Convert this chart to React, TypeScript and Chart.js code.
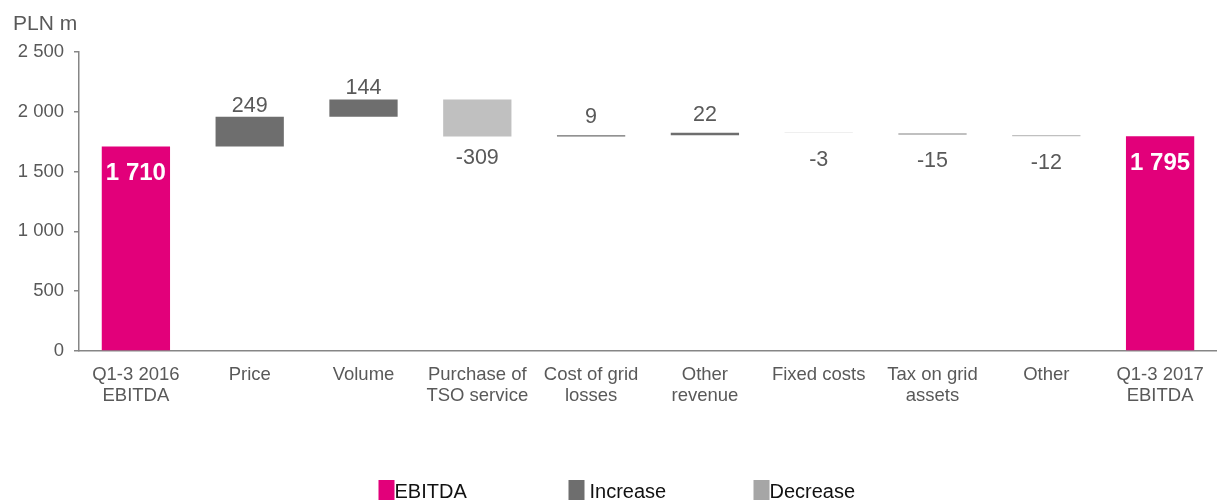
import { useEffect, useRef } from "react";
import { Chart, registerables } from "chart.js";

Chart.register(...registerables);

const categories: (string | string[])[] = [
  ["Q1-3 2016", "EBITDA"],
  "Price",
  "Volume",
  ["Purchase of", "TSO service"],
  ["Cost of grid", "losses"],
  ["Other", "revenue"],
  "Fixed costs",
  ["Tax on grid", "assets"],
  "Other",
  ["Q1-3 2017", "EBITDA"],
];
const startEbitda = 1710;
const endEbitda = 1795;
const changes = [249, 144, -309, 9, 22, -3, -15, -12];
const yTicks = [0, 500, 1000, 1500, 2000, 2500];
const legendLabels = ["EBITDA", "Increase", "Decrease"];

const FONT = '"Liberation Sans", Arial, sans-serif';
const MAGENTA = "#E2007A";
const INC = "#6E6E6E";
const DEC = "#C0C0C0";
const DEC_LEGEND = "#A6A6A6";
const TEXT = "#595959";
const AXIS = "#868686";

const fmt = (v: number) => {
  const s = Math.abs(v).toString().replace(/\B(?=(\d{3})+(?!\d))/g, " ");
  return (v < 0 ? "-" : "") + s;
};

const n = categories.length;
const ebitdaData: ([number, number] | null)[] = Array(n).fill(null);
ebitdaData[0] = [0, startEbitda];
ebitdaData[n - 1] = [0, endEbitda];
const incData: ([number, number] | null)[] = Array(n).fill(null);
const decData: ([number, number] | null)[] = Array(n).fill(null);
const labelValues: number[] = [startEbitda, ...changes, endEbitda];
{
  let level = startEbitda;
  changes.forEach((c, i) => {
    const next = level + c;
    (c >= 0 ? incData : decData)[i + 1] = [level, next];
    level = next;
  });
}

const labelPlugin = {
  id: "wfLabels",
  afterDatasetsDraw(chart: any) {
    const ctx = chart.ctx;
    ctx.save();
    ctx.textAlign = "center";
    ctx.textBaseline = "middle";
    chart.data.datasets.forEach((ds: any, di: number) => {
      const meta = chart.getDatasetMeta(di);
      meta.data.forEach((el: any, i: number) => {
        if (!ds.data[i]) return;
        const top = Math.min(el.y, el.base);
        const bottom = Math.max(el.y, el.base);
        const center = (top + bottom) / 2;
        const v = labelValues[i];
        if (di === 0) {
          ctx.font = `bold 24px ${FONT}`;
          ctx.fillStyle = "#FFFFFF";
          ctx.fillText(fmt(v), el.x, top + 27);
        } else if (di === 1) {
          ctx.font = `21.5px ${FONT}`;
          ctx.fillStyle = TEXT;
          ctx.fillText(fmt(v), el.x, Math.min(top - 11, center - 19));
        } else {
          ctx.font = `21.5px ${FONT}`;
          ctx.fillStyle = TEXT;
          ctx.fillText(fmt(v), el.x, Math.max(bottom + 22, center + 27));
        }
      });
    });
    ctx.restore();
  },
};

const extrasPlugin = {
  id: "extras",
  afterDraw(chart: any) {
    const ctx = chart.ctx;
    ctx.save();
    // axis unit title
    ctx.font = `21px ${FONT}`;
    ctx.fillStyle = TEXT;
    ctx.textAlign = "left";
    ctx.textBaseline = "middle";
    ctx.fillText("PLN m", 13, 24);
    // legend
    const colors = [MAGENTA, INC, DEC_LEGEND];
    const offsets = [-230, -40, 145];
    const cx = chart.width / 2;
    ctx.font = `20px ${FONT}`;
    ctx.textBaseline = "alphabetic";
    legendLabels.forEach((lab, i) => {
      const x = cx + offsets[i];
      ctx.fillStyle = colors[i];
      ctx.fillRect(x, 480, 16, 20);
      ctx.fillStyle = "#111111";
      ctx.fillText(lab, x + 16 + (i === 1 ? 5 : 0), 498);
    });
    ctx.restore();
  },
};

export default function App() {
  const ref = useRef<HTMLCanvasElement | null>(null);
  useEffect(() => {
    if (!ref.current) return;
    Chart.defaults.font.family = FONT;
    const chart = new Chart(ref.current, {
      type: "bar",
      data: {
        labels: categories,
        datasets: [
          { label: legendLabels[0], data: ebitdaData as any, backgroundColor: MAGENTA },
          { label: legendLabels[1], data: incData as any, backgroundColor: INC },
          { label: legendLabels[2], data: decData as any, backgroundColor: DEC },
        ],
      },
      options: {
        animation: false,
        responsive: true,
        maintainAspectRatio: false,
        layout: { padding: { left: 14, top: 52, right: 0, bottom: 79 } },
        datasets: { bar: { grouped: false, categoryPercentage: 1, barPercentage: 0.6 } } as any,
        plugins: { legend: { display: false }, tooltip: { enabled: false } },
        scales: {
          x: {
            offset: true,
            grid: { display: false },
            border: { display: true, color: AXIS, width: 1.5 },
            ticks: {
              color: TEXT,
              font: { size: 18.5, family: FONT, lineHeight: 1.14 },
              padding: 5,
              maxRotation: 0,
              autoSkip: false,
            },
            afterFit: (s: any) => { s.height = 70; },
          },
          y: {
            min: 0,
            max: 2500,
            afterBuildTicks: (s: any) => { s.ticks = yTicks.map((v) => ({ value: v })); },
            grid: { display: true, drawOnChartArea: false, drawTicks: true, tickLength: 5, color: AXIS, lineWidth: 1.5 },
            border: { display: true, color: AXIS, width: 1.5 },
            ticks: { color: TEXT, font: { size: 18.5, family: FONT }, padding: 10, callback: (v: any) => fmt(Number(v)) },
            afterFit: (s: any) => { s.width = 65; },
          },
        },
      },
      plugins: [labelPlugin, extrasPlugin],
    });
    return () => chart.destroy();
  }, []);
  return (
    <div style={{ position: "fixed", left: 0, top: 0, width: 1217, height: 500 }}>
      <canvas ref={ref} />
    </div>
  );
}
